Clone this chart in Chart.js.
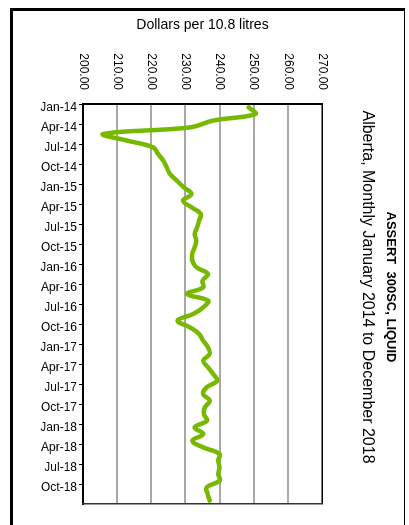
<!DOCTYPE html>
<html><head><meta charset="utf-8">
<script src="https://cdn.jsdelivr.net/npm/chart.js@4"></script>
<style>
html,body{margin:0;padding:0;background:#fff;overflow:hidden;width:409px;height:525px;}
#frame{position:absolute;left:10px;top:8px;width:395px;height:600px;border-left:3px solid #000;border-top:3px solid #000;border-right:1px solid #000;box-sizing:border-box;pointer-events:none;}
#rot{position:absolute;left:0;top:0;width:574px;height:409px;transform-origin:0 0;transform:translateX(409px) rotate(90deg);}
canvas{display:block;}
</style></head><body>
<div id="rot"><canvas id="c" width="574" height="409" style="width:574px;height:409px"></canvas></div>
<div id="frame"></div>
<script>
const chartTitle = 'ASSERT  300SC, LIQUID';
const chartSubtitle = 'Alberta, Monthly January 2014 to December 2018';
const axisTitle = 'Dollars per 10.8 litres';
const valueMin = 200, valueMax = 270, valueStep = 10;
const months = [
 'Jan-14','Feb-14','Mar-14','Apr-14','May-14','Jun-14','Jul-14','Aug-14','Sep-14','Oct-14','Nov-14','Dec-14',
 'Jan-15','Feb-15','Mar-15','Apr-15','May-15','Jun-15','Jul-15','Aug-15','Sep-15','Oct-15','Nov-15','Dec-15',
 'Jan-16','Feb-16','Mar-16','Apr-16','May-16','Jun-16','Jul-16','Aug-16','Sep-16','Oct-16','Nov-16','Dec-16',
 'Jan-17','Feb-17','Mar-17','Apr-17','May-17','Jun-17','Jul-17','Aug-17','Sep-17','Oct-17','Nov-17','Dec-17',
 'Jan-18','Feb-18','Mar-18','Apr-18','May-18','Jun-18','Jul-18','Aug-18','Sep-18','Oct-18','Nov-18','Dec-18'
];
const prices = [
 248.5,250.5,238.0,231.5,206.0,213.0,220.5,222.0,223.5,224.5,225.5,227.5,
 229.5,231.8,229.3,231.8,234.5,234.0,233.4,232.7,233.2,232.7,232.0,232.0,
 233.2,236.6,235.0,235.2,230.5,236.6,235.2,232.3,227.7,231.3,234.0,235.2,
 236.6,237.1,235.2,236.6,238.1,239.3,236.2,235.2,237.1,235.7,235.4,236.3,
 232.7,235.2,232.0,235.2,240.0,239.6,240.0,239.6,240.0,236.2,236.5,237.1
];
const lineColor = '#77b800';
const FONT = "'Liberation Sans', Arial, sans-serif";

new Chart(document.getElementById('c'), {
  type: 'line',
  data: { labels: months, datasets: [{ data: prices, borderColor: lineColor, borderWidth: 4.5, pointRadius: 0, tension: 0.4, fill: false, borderCapStyle: 'round', borderJoinStyle: 'round' }] },
  options: {
    responsive: false, animation: false,
    layout: { padding: 0 },
    plugins: {
      legend: { display: false }, tooltip: { enabled: false },
      title: { display: true, text: chartTitle, color: '#000', font: { family: FONT, size: 13, weight: 'bold' }, padding: { top: 10.7, bottom: 6 } },
      subtitle: { display: true, text: chartSubtitle, color: '#000', font: { family: FONT, size: 16 }, padding: { top: 0, bottom: 35.5 } }
    },
    scales: {
      x: {
        type: 'category', offset: true,
        grid: { offset: true, drawOnChartArea: false, tickLength: 4, lineWidth: 1, color: ctx => ctx.index % 3 === 0 ? '#000' : 'rgba(0,0,0,0)' },
        border: { display: true, color: '#000', width: 2 },
        ticks: { autoSkip: false, maxRotation: 90, minRotation: 90, padding: 2, color: '#000', font: { family: FONT, size: 12 }, callback: (v, i) => i % 3 === 0 ? months[i] : '' },
        afterFit: s => { s.height = 83; }
      },
      y: {
        min: valueMin, max: valueMax,
        border: { display: true, color: '#000', width: 2 },
        grid: { drawTicks: false, color: ctx => ctx.tick && ctx.tick.value === valueMax ? '#000' : '#a8a8a8', lineWidth: ctx => ctx.tick && ctx.tick.value === valueMax ? 1.5 : 2 },
        ticks: { stepSize: valueStep, padding: 14, color: '#000', font: { family: FONT, size: 12 }, callback: v => Number(v).toFixed(2) },
        title: { display: true, text: axisTitle, color: '#000', font: { family: FONT, size: 14 }, padding: { top: 17, bottom: 0 } },
        afterFit: s => { s.width = 104; }
      },
      y2: {
        position: 'right', min: 0, max: 1,
        grid: { display: false }, ticks: { display: false },
        border: { display: true, color: '#333', width: 1.5 },
        afterFit: s => { s.width = 70; }
      }
    }
  }
});
</script>
</body></html>
